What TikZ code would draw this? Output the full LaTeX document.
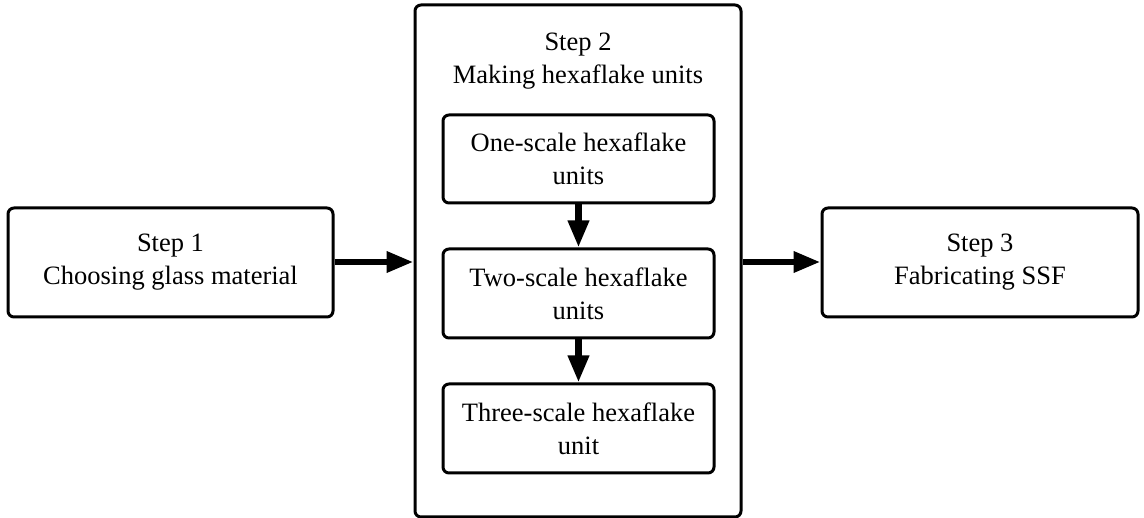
\documentclass[tikz,border=0pt]{standalone}
\usepackage{fontspec}
\setmainfont{Liberation Serif}
\usetikzlibrary{arrows.meta}
\begin{document}
\begin{tikzpicture}[x=1pt,y=-1pt,
  box/.style={draw,line width=3pt,rounded corners=6pt,align=center,inner sep=0pt,
    font=\fontsize{26.5}{33}\selectfont},
  flow/.style={line width=6.5pt,-{Triangle[length=27pt,width=20pt]}}]
\useasboundingbox (0,0) rectangle (1144,518);
% step boxes
\node[box,minimum width=325pt,minimum height=109pt] (s1) at (170.5,262.5) {Step 1\\Choosing glass material};
\node[box,minimum width=326pt,minimum height=512pt] (s2) at (578,261) {};
\node[box,minimum width=316pt,minimum height=109pt] (s3) at (980,262.5) {Step 3\\Fabricating SSF};
% step 2 title and its sub-steps
\node[align=center,font=\fontsize{26.5}{33}\selectfont] (t2) at (578,61) {Step 2\\Making hexaflake units};
\node[box,minimum width=271pt,minimum height=88pt] (u1) at (578.5,159) {One-scale hexaflake\\units};
\node[box,minimum width=271pt,minimum height=89pt] (u2) at (578.5,293.5) {Two-scale hexaflake\\units};
\node[box,minimum width=271pt,minimum height=89pt] (u3) at (578.5,428.5) {Three-scale hexaflake\\unit};
% connectors
\draw[flow] (s1.east |- 0,262) -- (s2.west |- 0,262);
\draw[flow] (s2.east |- 0,262) -- (s3.west |- 0,262);
\draw[flow] (u1.south) -- (u2.north);
\draw[flow] (u2.south) -- (u3.north);
\end{tikzpicture}
\end{document}
